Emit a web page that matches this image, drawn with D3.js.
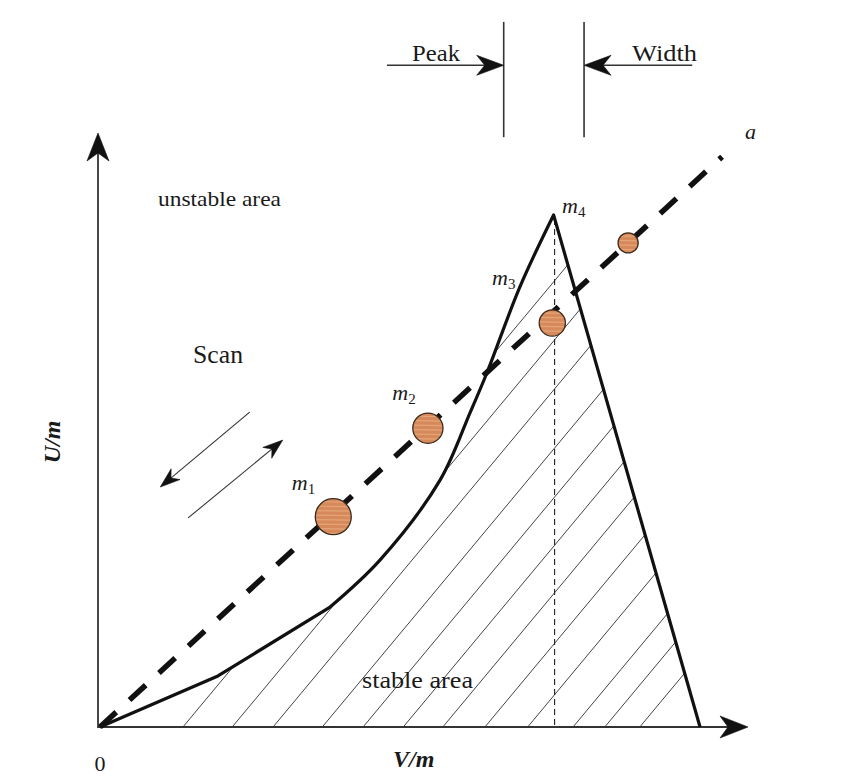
<!DOCTYPE html>
<html><head><meta charset="utf-8">
<script src="https://cdn.jsdelivr.net/npm/d3@7"></script>
<style>
body{margin:0;background:#fff}
svg{display:block}
text{font-family:"Liberation Serif","Times New Roman",serif;fill:#1a1a1a}
</style>
</head><body>
<svg id="chart" width="859" height="780"></svg>
<script>
// ---------- data (V/m on x, U/m on y, arbitrary units 0..100) ----------
const boundaryV = [0, 18.2, 35.5, 43.2, 52.5, 57.1, 59.7, 64.8, 70.0, 92.6];
const boundaryU = [0, 8.6, 20.2, 28.1, 41.6, 52.9, 59.6, 74.1, 86.2, 0];
const scanLineV = [0, 96];          // dashed scan line "a"
const scanLineU = [0, 96];
const ionV = [36.0, 50.6, 69.8, 81.5];
const ionU = [35.4, 50.3, 68.0, 81.5];
const ionMass = [3.2, 2.25, 1.7, 1.0];
const massNames = ["m", "m", "m", "m"];
const massSubs = ["1", "2", "3", "4"];
const massLabelV = [29.6, 45.1, 60.5, 71.3];
const massLabelU = [39.9, 55.1, 74.4, 86.5];
const hatchStartV = [12.8, 20.4, 26.7, 34.3, 40.6, 46.8, 52.9, 59.4, 66.0, 73.0, 77.9, 83.3];
const hatchSlope = 1.31;
const peakEdgesV = [62.3, 74.7];
const axisMax = [100, 100];

// ---------- scales ----------
const svg = d3.select("#chart");
const x = d3.scaleLinear().domain([0, 100]).range([100, 748]);
const y = d3.scaleLinear().domain([0, 100]).range([727, 133]);
const r = d3.scaleSqrt().domain([0, d3.max(ionMass)]).range([0, 18]);

function arrowHead(g, tx, ty, angle, L, W, N) {
  const dx = Math.cos(angle), dy = Math.sin(angle);
  const px = -dy, py = dx;
  const pts = [
    [tx, ty],
    [tx - L * dx + W * px, ty - L * dy + W * py],
    [tx - (L - N) * dx, ty - (L - N) * dy],
    [tx - L * dx - W * px, ty - L * dy - W * py]
  ];
  g.append("path").attr("d", "M" + pts.map(p => p.join(",")).join("L") + "Z")
    .attr("fill", "#111").attr("stroke", "#111").attr("stroke-width", 0.6);
}

const boundary = boundaryV.map((v, i) => [v, boundaryU[i]]);
const peakIdx = boundaryU.indexOf(d3.max(boundaryU));
const line = d3.line().x(d => x(d[0])).y(d => y(d[1]));
const smooth = d3.line().x(d => x(d[0])).y(d => y(d[1])).curve(d3.curveCatmullRom.alpha(0.5));
// boundary path: straight kinks near origin, smooth rise to the peak, straight fall
const partA = line(boundary.slice(0, 3));
const partB = smooth(boundary.slice(2, peakIdx + 1)).replace(/^M[^CL]*/, "");
const partC = line(boundary.slice(peakIdx)).replace(/^M[^L]*/, "");
const boundaryPath = partA + partB + partC;

const defs = svg.append("defs");
defs.append("clipPath").attr("id", "stable")
  .append("path").attr("d", boundaryPath + "Z");

// ---------- hatching ----------
const hatch = svg.append("g").attr("clip-path", "url(#stable)");
hatchStartV.forEach(c => {
  hatch.append("line")
    .attr("x1", x(c)).attr("y1", y(0))
    .attr("x2", x(c + 100 / hatchSlope)).attr("y2", y(100))
    .attr("stroke", "#444").attr("stroke-width", 1);
});

// ---------- axes ----------
const axes = svg.append("g");
axes.append("line").attr("x1", x(0) - 2).attr("y1", y(0)).attr("x2", x(axisMax[0]) - 10).attr("y2", y(0))
  .attr("stroke", "#333").attr("stroke-width", 1.8);
axes.append("line").attr("x1", x(0) - 2).attr("y1", y(0) + 1).attr("x2", x(0) - 2).attr("y2", y(axisMax[1]) + 10)
  .attr("stroke", "#333").attr("stroke-width", 1.8);
arrowHead(axes, x(axisMax[0]), y(0), 0, 28, 11, 8);
arrowHead(axes, x(0) - 2, y(axisMax[1]), -Math.PI / 2, 28, 11, 8);

// ---------- peak vertical dashed ----------
svg.append("line")
  .attr("x1", x(boundaryV[peakIdx]) + 1).attr("y1", y(boundaryU[peakIdx]) + 4)
  .attr("x2", x(boundaryV[peakIdx]) + 1).attr("y2", y(0))
  .attr("stroke", "#222").attr("stroke-width", 1.1).attr("stroke-dasharray", "6 4");

// ---------- scan line a ----------
svg.append("path")
  .attr("d", line(scanLineV.map((v, i) => [v, scanLineU[i]])))
  .attr("stroke", "#111").attr("stroke-width", 5.5).attr("fill", "none")
  .attr("stroke-dasharray", "22 18");

// ---------- stability boundary ----------
svg.append("path").attr("d", boundaryPath)
  .attr("fill", "none").attr("stroke", "#111").attr("stroke-width", 3.2)
  .attr("stroke-linejoin", "round");

// ---------- ions ----------
const ions = svg.append("g");
ionV.forEach((v, i) => {
  const cx = x(v), cy = y(ionU[i]), rr = r(ionMass[i]);
  const id = "ion" + i;
  defs.append("clipPath").attr("id", id).append("circle").attr("cx", cx).attr("cy", cy).attr("r", rr);
  ions.append("circle").attr("cx", cx).attr("cy", cy).attr("r", rr)
    .attr("fill", "#d6895a");
  const g = ions.append("g").attr("clip-path", `url(#${id})`);
  for (let k = -rr + 3; k < rr; k += 4.5) {
    g.append("line").attr("x1", cx - rr).attr("x2", cx + rr).attr("y1", cy + k).attr("y2", cy + k + 0.5)
      .attr("stroke", "#e9ad80").attr("stroke-width", 1.2).attr("opacity", 0.8);
  }
  ions.append("circle").attr("cx", cx).attr("cy", cy).attr("r", rr)
    .attr("fill", "none").attr("stroke", "#3b2a1e").attr("stroke-width", 1.3);
});

// mass labels
massNames.forEach((m, i) => {
  const t = svg.append("text").attr("x", x(massLabelV[i])).attr("y", y(massLabelU[i]))
    .attr("font-size", 22).attr("font-style", "italic");
  t.append("tspan").text(m);
  t.append("tspan").attr("font-size", 15).attr("font-style", "normal").attr("dy", 4).text(massSubs[i]);
});

// ---------- peak / width markers ----------
const pk = svg.append("g");
peakEdgesV.forEach(v => {
  pk.append("line").attr("x1", x(v)).attr("x2", x(v)).attr("y1", y(118.7)).attr("y2", y(99.3))
    .attr("stroke", "#333").attr("stroke-width", 1.6);
});
pk.append("line").attr("x1", x(44.3)).attr("x2", x(peakEdgesV[0]) - 10).attr("y1", y(111.4)).attr("y2", y(111.4))
  .attr("stroke", "#333").attr("stroke-width", 1.4);
arrowHead(pk, x(peakEdgesV[0]), y(111.4), 0, 27, 10, 8);
pk.append("line").attr("x1", x(91.4)).attr("x2", x(peakEdgesV[1]) + 10).attr("y1", y(111.4)).attr("y2", y(111.4))
  .attr("stroke", "#333").attr("stroke-width", 1.4);
arrowHead(pk, x(peakEdgesV[1]), y(111.4), Math.PI, 27, 10, 8);

// ---------- scan arrows ----------
const sc = svg.append("g");
function scanArrow(v1, u1, v2, u2) {
  const x1 = x(v1), y1 = y(u1), x2 = x(v2), y2 = y(u2);
  const ang = Math.atan2(y2 - y1, x2 - x1);
  sc.append("line").attr("x1", x1).attr("y1", y1).attr("x2", x2 - 8 * Math.cos(ang)).attr("y2", y2 - 8 * Math.sin(ang))
    .attr("stroke", "#333").attr("stroke-width", 1.1);
  arrowHead(sc, x2, y2, ang, 20, 7, 6);
}
scanArrow(23.1, 53.0, 9.3, 40.4);
scanArrow(13.6, 35.2, 28.2, 48.3);

// ---------- texts ----------
function txt(s, px, py, size, opts = {}) {
  const t = svg.append("text").attr("x", px).attr("y", py).attr("font-size", size).text(s);
  if (opts.len) t.attr("textLength", opts.len).attr("lengthAdjust", "spacingAndGlyphs");
  if (opts.italic) t.attr("font-style", "italic");
  if (opts.bold) t.attr("font-weight", "bold");
  if (opts.anchor) t.attr("text-anchor", opts.anchor);
  return t;
}
txt("Peak", 412, 61, 24, {len: 48});
txt("Width", 632, 61, 24, {len: 65});
txt("unstable area", 158, 206, 21, {len: 123});
txt("Scan", 193, 363, 25, {len: 50});
txt("stable area", 362, 688, 23, {len: 111});
txt("a", 745, 139, 22, {italic: true});
txt("0", x(0), 771, 22, {anchor: "middle"});
txt("V/m", 393, 767, 24, {italic: true, bold: true});
txt("U/m", 0, 0, 24, {italic: true, bold: true, anchor: "middle"})
  .attr("transform", "translate(60,442) rotate(-90)");
</script>
</body></html>
